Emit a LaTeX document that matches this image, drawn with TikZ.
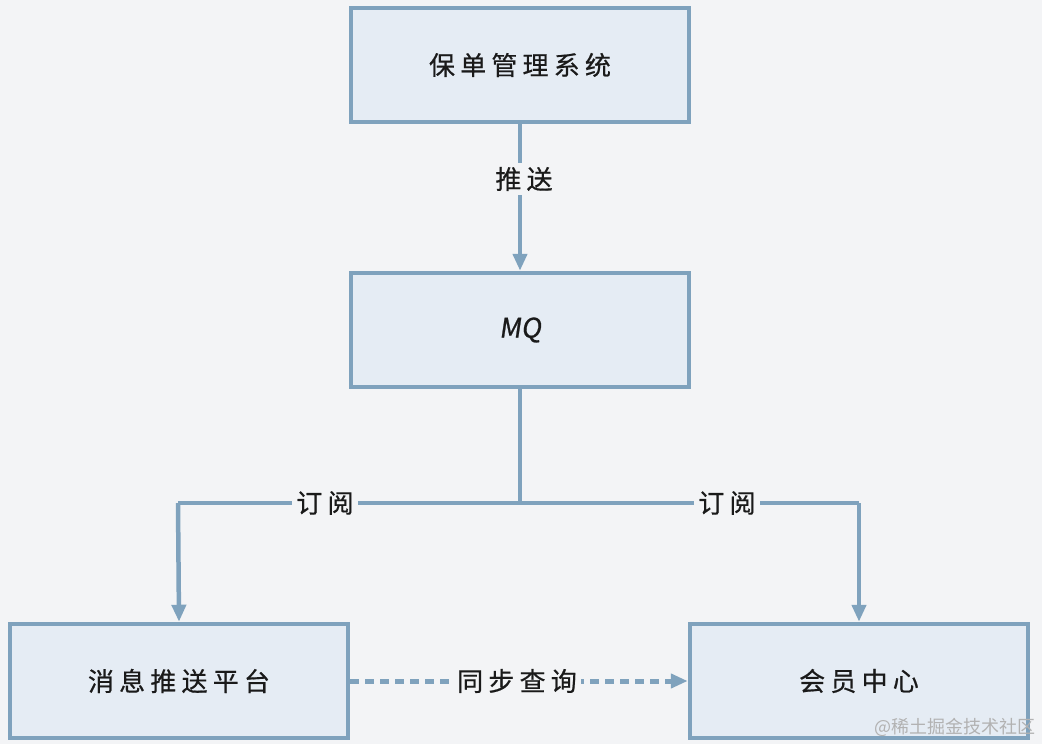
\documentclass[tikz,border=0pt]{standalone}
\usepackage{fontspec}
\newfontfamily\cjk{Noto Sans CJK SC}
\newfontfamily\cjkspaced[LetterSpace=20,FakeBold=0.6]{Noto Sans CJK SC}
\newfontfamily\mqfont[FakeBold=0.8,FakeSlant=0.15]{Noto Sans CJK SC}
\usetikzlibrary{arrows.meta}
\definecolor{bgc}{HTML}{F3F4F6}
\definecolor{boxfill}{HTML}{E5ECF4}
\definecolor{edge}{HTML}{7FA2BD}
\definecolor{txt}{HTML}{1A1A1A}
\tikzset{
  sysbox/.style={draw=edge, fill=boxfill, line width=4.5pt, minimum width=338pt, minimum height=114pt, inner sep=0pt, font=\cjkspaced\fontsize{26}{30}\selectfont, text=txt},
  conn/.style={draw=edge, line width=4.5pt, -{Triangle[length=17pt,width=14pt]}},
  plainconn/.style={draw=edge, line width=4.5pt},
  lbl/.style={fill=bgc, inner sep=4pt, font=\cjkspaced\fontsize{26}{30}\selectfont, text=txt},
  dotconn/.style={draw=edge, line width=5pt, dash pattern=on 9pt off 6pt, -{Triangle[length=17pt,width=14pt]}}
}
\begin{document}
\begin{tikzpicture}[x=1pt,y=-1pt]
\fill[bgc] (0,0) rectangle (1042,744);
\useasboundingbox (0,0) rectangle (1042,744);
\node[sysbox] (pms) at (520,65) {保单管理系统};
\node[sysbox] (mq) at (520,330) {\mqfont\fontsize{27}{30}\selectfont MQ};
\node[sysbox] (push) at (179,681) {消息推送平台};
\node[sysbox] (member) at (859,681) {会员中心};
\coordinate (j) at (520,503);
\coordinate (jl) at (178,503);
\coordinate (jr) at (859,503);
\draw[conn] (pms.south) -- (mq.north);
\node[lbl] (push lbl) at (524,179) {推送};
\draw[plainconn] (mq.south) -- (j);
\draw[plainconn] (jl) -- (jr);
\draw[conn] (jl) -- (push.north);
\draw[conn] (jr) -- (member.north);
\node[lbl] (sub1) at (325,503) {订阅};
\node[lbl] (sub2) at (727,503) {订阅};
\draw[dotconn] (push.east) -- (member.west);
\node[lbl] (sync) at (517,681) {同步查询};
\node[font=\cjk\fontsize{18}{20}\selectfont, text=black!30, anchor=east, inner sep=0pt] (wm) at (1036,727) {@稀土掘金技术社区};
\end{tikzpicture}
\end{document}
